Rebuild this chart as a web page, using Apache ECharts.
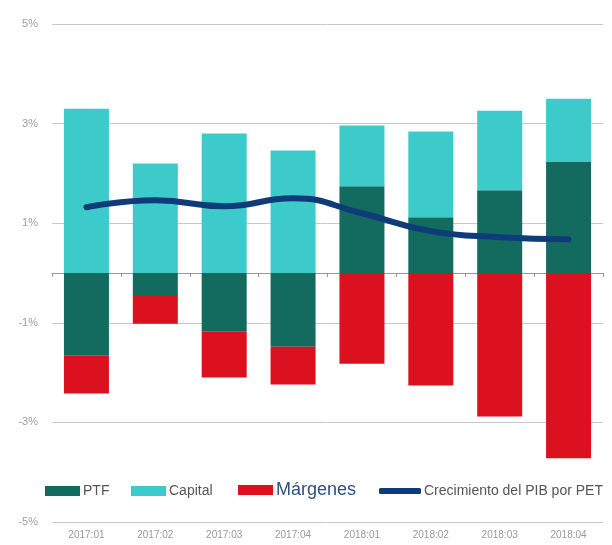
<!DOCTYPE html>
<html>
<head>
<meta charset="utf-8">
<script src="https://cdn.jsdelivr.net/npm/echarts@6/dist/echarts.min.js"></script>
<style>
  html, body { margin: 0; padding: 0; background: #fff; }
  #chart { width: 612px; height: 545px; }
</style>
</head>
<body>
<div id="chart"></div>
<script>
// periodos
var categories = ["2017:01", "2017:02", "2017:03", "2017:04", "2018:01", "2018:02", "2018:03", "2018:04"];
// contribuciones (%)
var ptf = [-1.66, -0.44, -1.18, -1.48, 1.74, 1.12, 1.66, 2.24];
var capital = [3.3, 2.2, 2.8, 2.46, 1.22, 1.72, 1.6, 1.26];
var margenes = [-0.76, -0.58, -0.92, -0.76, -1.82, -2.26, -2.88, -3.72];
var pibPet = [1.32, 1.46, 1.34, 1.5, 1.2, 0.84, 0.72, 0.68];

var fontFam = "Liberation Sans, Arial, sans-serif";

function legendAt(name, left, top, opts) {
  var l = {
    data: [name],
    left: left,
    top: top,
    itemWidth: 35,
    itemHeight: 10,
    itemGap: 0,
    icon: "rect",
    selectedMode: false,
    textStyle: { color: "#555", fontSize: 14, fontFamily: fontFam, padding: [0, 0, 0, -2] }
  };
  for (var k in opts) l[k] = opts[k];
  return l;
}

var chart = echarts.init(document.getElementById("chart"));
chart.setOption({
  animation: false,
  grid: { left: 52, right: 9, top: 24, bottom: 23 },
  legend: [
    legendAt("PTF", 40, 479),
    legendAt("Capital", 126, 479),
    legendAt("Márgenes", 233, 476, {
      textStyle: { color: "#2e4f80", fontSize: 18, fontFamily: fontFam, padding: [0, 0, 0, -2] }
    }),
    legendAt("Crecimiento del PIB por PET", 374, 479, {
      icon: "roundRect",
      itemWidth: 42,
      itemHeight: 6
    })
  ],
  xAxis: [
    {
      type: "category",
      data: categories,
      position: "bottom",
      axisLine: { show: false, onZero: false },
      axisTick: { show: false },
      axisLabel: { color: "#999", fontSize: 10, fontFamily: fontFam, margin: 8 }
    },
    {
      type: "category",
      data: categories,
      position: "top",
      axisLine: { show: true, onZero: true, lineStyle: { color: "#999", width: 1 } },
      axisTick: { show: true, inside: true, length: 4, lineStyle: { color: "#999" } },
      axisLabel: { show: false }
    }
  ],
  yAxis: {
    type: "value",
    min: -5,
    max: 5,
    interval: 1,
    axisLine: { show: false },
    axisTick: { show: false },
    axisLabel: {
      color: "#a0a0a0",
      fontSize: 11,
      fontFamily: fontFam,
      margin: 14,
      formatter: function (v) { return v % 2 !== 0 ? v + "%" : ""; }
    },
    splitLine: { show: true, lineStyle: { color: ["#c8c8c8", "transparent"], width: 1 } }
  },
  series: [
    {
      name: "PTF",
      type: "bar",
      stack: "a",
      data: ptf,
      barWidth: 45,
      itemStyle: { color: "#136a5f" }
    },
    {
      name: "Capital",
      type: "bar",
      stack: "a",
      data: capital,
      itemStyle: { color: "#3ccaca" }
    },
    {
      name: "Márgenes",
      type: "bar",
      stack: "a",
      data: margenes,
      itemStyle: { color: "#db111f" }
    },
    {
      name: "Crecimiento del PIB por PET",
      type: "line",
      data: pibPet,
      smooth: true,
      showSymbol: false,
      symbol: "none",
      z: 5,
      itemStyle: { color: "#0f3c78" },
      lineStyle: { color: "#0f3c78", width: 6, cap: "round" }
    }
  ]
});
</script>
</body>
</html>
